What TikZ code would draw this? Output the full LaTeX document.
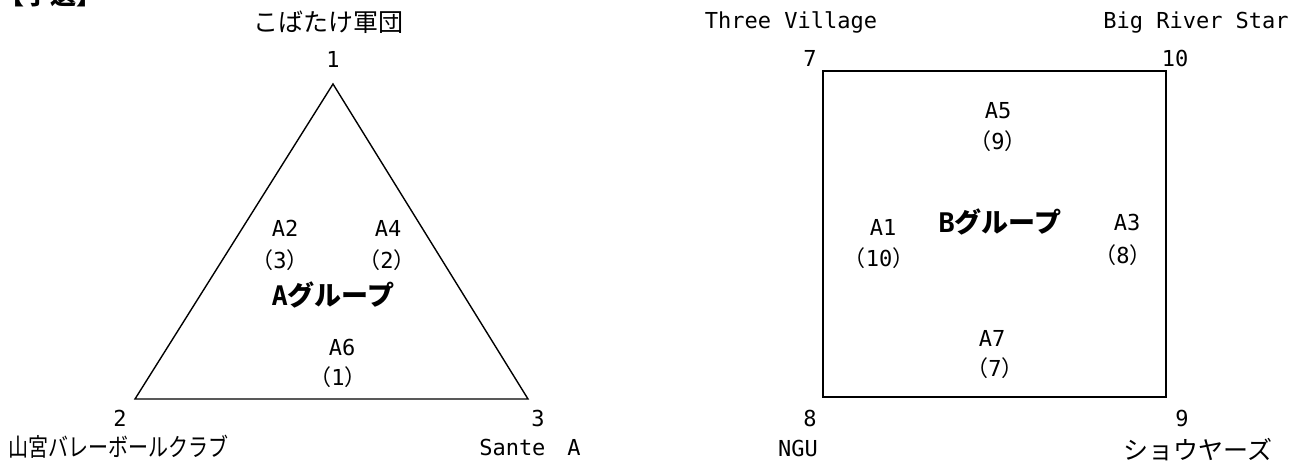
\documentclass[tikz,border=0pt]{standalone}
\usepackage{fontspec}
\setmainfont{DejaVu Sans Mono}
\newfontfamily\jp{Noto Sans CJK JP}
\newcommand{\rank}[1]{{\jp （}#1{\jp ）}}

\tikzset{
  lat/.style={font=\fontsize{22}{26}\selectfont, inner sep=0pt, text height=16pt, text depth=0pt},
  jpn/.style={font=\jp\fontsize{25}{30}\selectfont, inner sep=0pt, text height=22pt, text depth=3pt},
  grp/.style={font=\bfseries\fontsize{27}{32}\selectfont, inner sep=0pt, text height=24pt, text depth=3pt},
  edge/.style={line width=1.4pt, line join=miter}
}

\begin{document}
\begin{tikzpicture}[x=1pt,y=-1pt]
        \useasboundingbox (0,0) rectangle (1290,461);
        \node[font=\jp\bfseries\fontsize{26}{30}\selectfont, inner sep=0pt, anchor=base west] (title) at (-2,4.5) {【予選】};

        % A group
        \coordinate (v1) at (333,84);
        \coordinate (v2) at (135,399);
        \coordinate (v3) at (528,399);
        \draw[edge] (v1) -- (v2) -- (v3) -- cycle;

        \node[jpn] (t1) at (328,22) {こばたけ軍団};
        \node[lat] (n1) at (333,59) {1};
        \node[lat] (n2) at (120,418) {2};
        \node[lat] (n3) at (538,418) {3};
        \node[jpn, xscale=0.8] (t2) at (119,447) {山宮バレーボールクラブ};
        \node[lat] (t3) at (530,447) {Sante{\jp 　}A};

        \node[lat] (a2) at (285,228) {A2};
        \node[lat] (a2r) at (280,260) {\rank{3}};
        \node[lat] (a4) at (388,228) {A4};
        \node[lat] (a4r) at (387,260) {\rank{2}};
        \node[grp] (ga) at (333,295) {A{\jp グループ}};
        \node[lat] (a6) at (342,347) {A6};
        \node[lat] (a6r) at (338,377) {\rank{1}};

        % B group
        \coordinate (v7) at (823,71);
        \coordinate (v8) at (823,397);
        \coordinate (v9) at (1166,397);
        \coordinate (v10) at (1166,71);
        \draw[edge] (v7) -- (v8) -- (v9) -- (v10) -- cycle;

        \node[lat] (t7) at (791,20) {Three Village};
        \node[lat] (n7) at (810,58) {7};
        \node[lat] (t10) at (1196,20) {Big River Star};
        \node[lat] (n10) at (1175,58) {10};
        \node[lat] (n8) at (810,418) {8};
        \node[lat] (t8) at (798,448) {NGU};
        \node[lat] (n9) at (1182,418) {9};
        \node[jpn] (t9) at (1198,450) {ショウヤーズ};

        \node[lat] (a5) at (998,110) {A5};
        \node[lat] (a5r) at (998,141) {\rank{9}};
        \node[grp] (gb) at (1000,222) {B{\jp グループ}};
        \node[lat] (a1) at (883,227) {A1};
        \node[lat] (a1r) at (879,258) {\rank{10}};
        \node[lat] (a3) at (1127,222) {A3};
        \node[lat] (a3r) at (1123,255) {\rank{8}};
        \node[lat] (a7) at (992,338) {A7};
        \node[lat] (a7r) at (995,368) {\rank{7}};
\end{tikzpicture}
\end{document}
